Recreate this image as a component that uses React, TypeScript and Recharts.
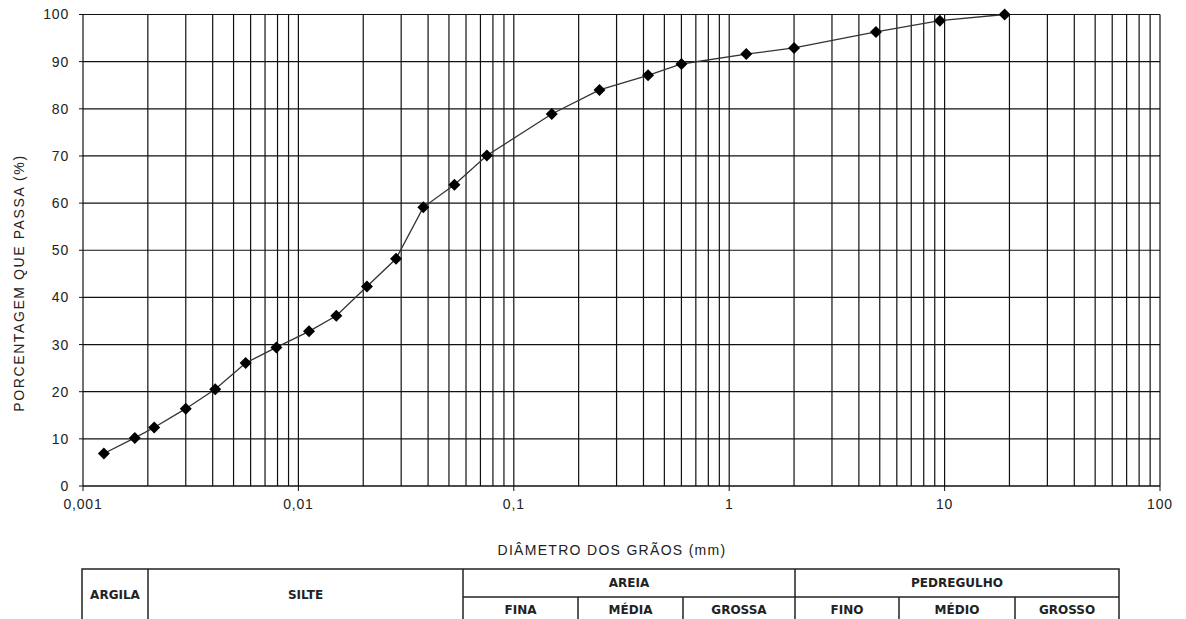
import React from 'react';
import {
  LineChart,
  Line,
  XAxis,
  YAxis,
  CartesianGrid,
  ReferenceLine,
} from 'recharts';

// curva granulométrica
const diameters = [
  0.00125, 0.00174, 0.00214, 0.003, 0.00411, 0.00569, 0.0079, 0.0112, 0.015,
  0.0208, 0.0284, 0.038, 0.053, 0.075, 0.15, 0.25, 0.42, 0.6, 1.2, 2.0, 4.8,
  9.5, 19,
];
const passing = [
  6.9, 10.2, 12.4, 16.4, 20.5, 26.1, 29.4, 32.8, 36.1, 42.3, 48.2, 59.1, 63.9,
  70.1, 78.9, 84.0, 87.1, 89.5, 91.6, 92.9, 96.3, 98.7, 100,
];

const xTicks = [0.001, 0.01, 0.1, 1, 10, 100];
const yTicks = [0, 10, 20, 30, 40, 50, 60, 70, 80, 90, 100];
const gridMultipliers = [1, 2, 3, 4, 5, 6, 7, 8, 9];

const data = diameters.map((d, i) => ({ d, p: passing[i] }));

// linhas verticais da escala log (exceto o eixo em 0,001)
const gridX = xTicks
  .slice(0, -1)
  .flatMap((dec) => gridMultipliers.map((m) => +(m * dec).toPrecision(3)))
  .filter((v) => v > 0.001)
  .concat([100]);

const fmt = (v: number) => String(v).replace('.', ',');

const Diamond = (props: any) => {
  const { cx, cy } = props;
  if (cx == null || cy == null) return null;
  const r = 6;
  return (
    <polygon
      points={`${cx},${cy - r} ${cx + r},${cy} ${cx},${cy + r} ${cx - r},${cy}`}
      fill="#000"
    />
  );
};

const tickStyle = {
  fontSize: 14,
  fill: '#222',
  fontFamily: '"Liberation Sans", Arial, sans-serif',
  letterSpacing: 0.8,
};

const cellFont = {
  fontFamily: '"DejaVu Sans", sans-serif',
  fontWeight: 700,
  fontSize: 12,
  fill: '#222',
};

const SoilTable = () => {
  const top = 569;
  const mid = 597;
  const bottom = 621;
  const stroke = '#222';
  return (
    <svg
      width={1186}
      height={619}
      style={{ position: 'absolute', left: 0, top: 0, pointerEvents: 'none' }}
    >
      <rect x={82} y={top} width={1119 - 82} height={bottom - top} fill="none" stroke={stroke} strokeWidth={1.5} />
      <line x1={463} x2={1119} y1={mid} y2={mid} stroke={stroke} strokeWidth={1.5} />
      {[148, 463, 795].map((x) => (
        <line key={x} x1={x} x2={x} y1={top} y2={bottom} stroke={stroke} strokeWidth={1.5} />
      ))}
      {[578, 683, 899, 1015].map((x) => (
        <line key={x} x1={x} x2={x} y1={mid} y2={bottom} stroke={stroke} strokeWidth={1.5} />
      ))}
      <g style={cellFont} textAnchor="middle" dominantBaseline="central">
        <text x={115} y={595}>ARGILA</text>
        <text x={305.5} y={595}>SILTE</text>
        <text x={629} y={583}>AREIA</text>
        <text x={957} y={583}>PEDREGULHO</text>
        <text x={520.5} y={610}>FINA</text>
        <text x={630.5} y={610}>MÉDIA</text>
        <text x={739} y={610}>GROSSA</text>
        <text x={847} y={610}>FINO</text>
        <text x={957} y={610}>MÉDIO</text>
        <text x={1067} y={610}>GROSSO</text>
      </g>
    </svg>
  );
};

export default function App() {
  return (
    <div
      style={{
        position: 'absolute',
        left: 0,
        top: 0,
        width: 1186,
        height: 619,
        overflow: 'hidden',
        background: '#fff',
        fontFamily: '"Liberation Sans", Arial, sans-serif',
      }}
    >
      <LineChart
        width={1186}
        height={619}
        data={data}
        margin={{ top: 14.5, right: 26, left: 23, bottom: 103 }}
      >
        <CartesianGrid vertical={false} stroke="#111" strokeWidth={1.2} />
        {gridX.map((v) => (
          <ReferenceLine key={v} x={v} stroke="#111" strokeWidth={1.2} ifOverflow="extendDomain" />
        ))}
        <XAxis
          dataKey="d"
          type="number"
          scale="log"
          domain={[0.001, 100]}
          ticks={xTicks}
          interval={0}
          allowDataOverflow
          tickFormatter={fmt}
          tick={tickStyle}
          tickSize={5}
          tickMargin={8}
          height={30}
          axisLine={{ stroke: '#111', strokeWidth: 1.2 }}
          tickLine={{ stroke: '#111' }}
        />
        <YAxis
          type="number"
          domain={[0, 100]}
          ticks={yTicks}
          interval={0}
          tick={tickStyle}
          tickSize={4}
          tickMargin={10}
          width={60}
          axisLine={{ stroke: '#111', strokeWidth: 1.2 }}
          tickLine={{ stroke: '#111' }}
        />
        <Line
          type="linear"
          dataKey="p"
          stroke="#333"
          strokeWidth={1.3}
          dot={<Diamond />}
          activeDot={false}
          isAnimationActive={false}
        />
      </LineChart>

      <div
        style={{
          position: 'absolute',
          left: 18.5,
          top: 283,
          transform: 'translate(-50%, -50%) rotate(-90deg)',
          whiteSpace: 'nowrap',
          fontSize: 14,
          letterSpacing: 1.6,
          color: '#222',
        }}
      >
        PORCENTAGEM QUE PASSA (%)
      </div>
      <div
        style={{
          position: 'absolute',
          left: 612,
          top: 550,
          transform: 'translate(-50%, -50%)',
          whiteSpace: 'nowrap',
          fontSize: 14,
          letterSpacing: 1.3,
          color: '#222',
        }}
      >
        DIÂMETRO DOS GRÃOS (mm)
      </div>

      <SoilTable />
    </div>
  );
}
